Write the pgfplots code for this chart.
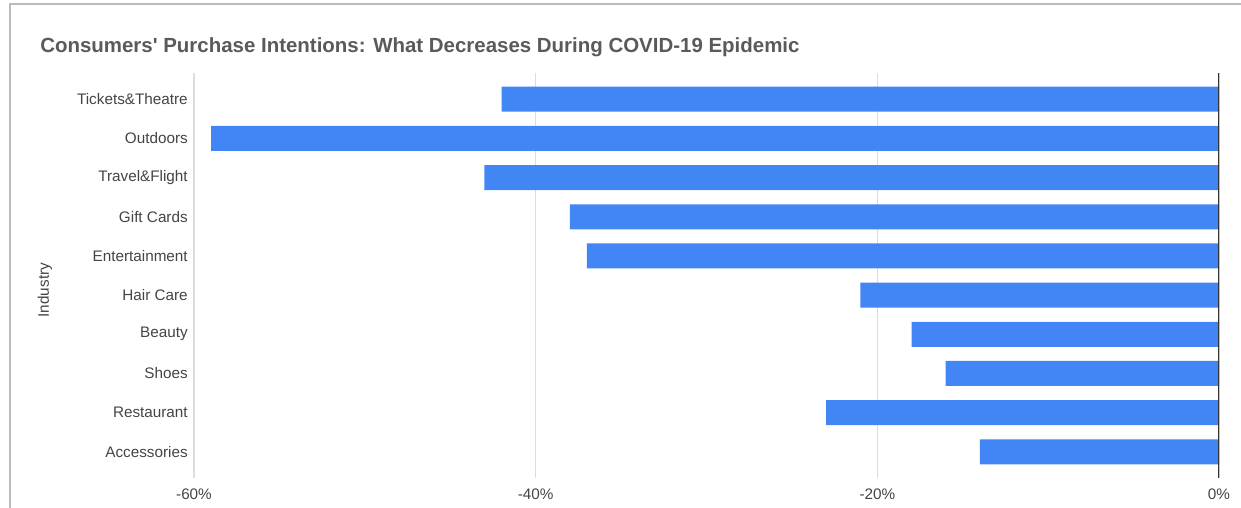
\documentclass[border=0pt]{standalone}
\usepackage{fontspec}
\setmainfont{Liberation Sans}
\usepackage{pgfplots}
\pgfplotsset{compat=1.18}
\definecolor{barblue}{HTML}{4285F4}
\definecolor{labelgray}{HTML}{444444}
\definecolor{titlegray}{HTML}{5A5A5A}
\definecolor{gridgray}{HTML}{DDDDDD}
\definecolor{framegray}{HTML}{BBBBBB}
\begin{document}
\begin{tikzpicture}
\useasboundingbox (0,0) rectangle (930.75bp,381bp);
% frame of the screenshot
\draw[framegray, line width=0.8pt] (7.5bp,0) -- (7.5bp,378bp) -- (930.75bp,378bp);
\node[anchor=west, inner sep=0, font=\fontsize{15.4}{17}\selectfont\bfseries, text=titlegray]
  at (30bp,345.5bp) {Consumers\textquotesingle\ Purchase Intentions: What Decreases During COVID-19 Epidemic};
\begin{axis}[
    at={(145.5bp,22.5bp)}, anchor=south west,
    scale only axis,
    width=768.75bp, height=303.75bp,
    bar width=18.75bp,
    xmin=-60, xmax=0,
    ymin=-0.67, ymax=9.67,
    y dir=reverse,
    axis line style={draw=none},
    xmajorgrids, grid style={gridgray, line width=0.8pt},
    xtick={-60,-40,-20,0},
    xticklabels={-60\%,-40\%,-20\%,0\%},
    ytick={0,...,9},
    yticklabels={Tickets\&Theatre,Outdoors,Travel\&Flight,Gift Cards,Entertainment,Hair Care,Beauty,Shoes,Restaurant,Accessories},
    major tick length=0pt,
    tick label style={font=\fontsize{11.5}{13}\selectfont, text=labelgray},
    xticklabel style={anchor=center, inner sep=0, yshift=-12bp},
    yticklabel style={anchor=east, inner sep=0, xshift=-4.5bp},
    ylabel={Industry},
    ylabel style={font=\fontsize{11.5}{13}\selectfont, text=labelgray, at={(axis description cs:-0.1454,0.464)}, anchor=center},
]
\addplot[xbar, fill=barblue, draw=none] coordinates {
  (-42,0) (-59,1) (-43,2) (-38,3) (-37,4) (-21,5) (-18,6) (-16,7) (-23,8) (-14,9)
};
\draw[black!80, line width=1pt] (axis cs:0,-0.67) -- (axis cs:0,9.67);
\end{axis}
\end{tikzpicture}
\end{document}
